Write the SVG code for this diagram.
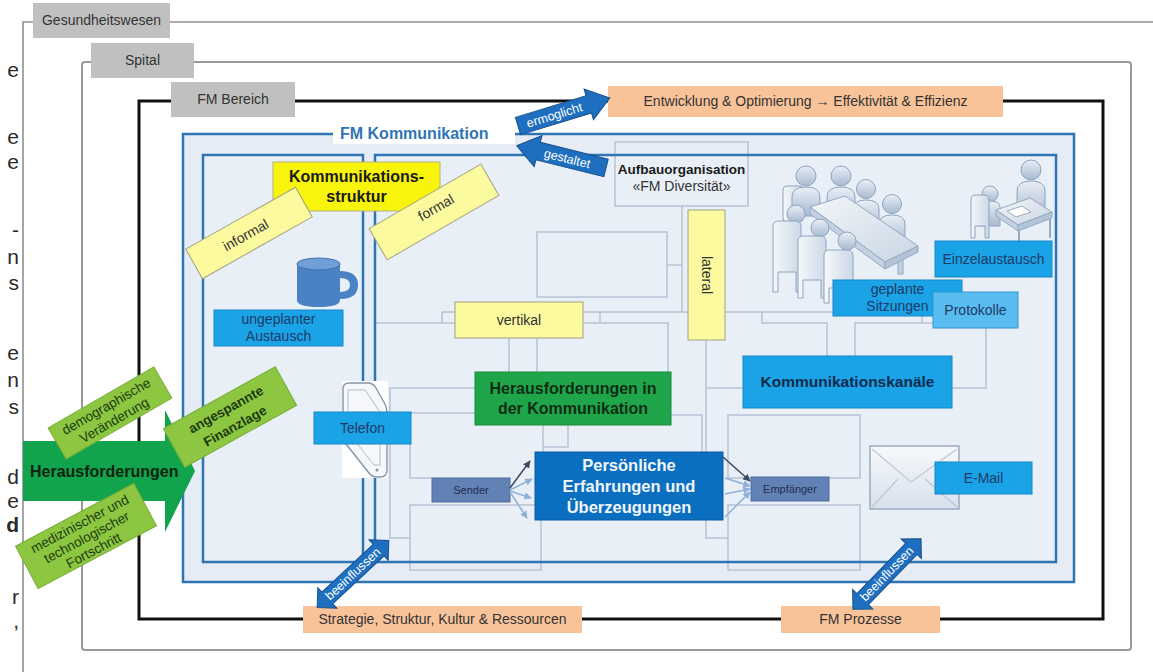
<svg xmlns="http://www.w3.org/2000/svg" width="1153" height="672" viewBox="0 0 1153 672">
<defs>
<style>
text{font-family:"Liberation Sans",Arial,sans-serif;}
.frag{font-size:21px;fill:#2a2a2a;text-anchor:end}
.lbl{font-size:14px;fill:#333;text-anchor:middle}
.grey{fill:#c0c0c0}
.orange{fill:#f9c39a}
.yel{fill:#f8f40c;stroke:#b3b088;stroke-width:1}
.pale{fill:#fbfa9e;stroke:#a3a284;stroke-width:1}
.sky{fill:#1ba3e7;stroke:#1487c6;stroke-width:1}
.skytxt{font-size:14px;fill:#1d3a66;text-anchor:middle}
.bold{font-weight:bold}
.org{fill:none;stroke:#b5c3d6;stroke-width:1.5}
.frame{fill:none;stroke:#2f74b5;stroke-width:2.5}
.barrow{fill:#1f6fc0;stroke:#174f8c;stroke-width:1}
.barrowtxt{font-size:12.5px;fill:#fff;text-anchor:middle}
.lime{fill:#8dc641;stroke:#78ad37;stroke-width:1}
.limetxt{font-size:13.5px;fill:#1b3a10;text-anchor:middle}
.person{fill:url(#gPerson);stroke:#8ea4bf;stroke-width:1}
.chair{fill:url(#gChair);stroke:#8ea4bf;stroke-width:1}
.table{fill:url(#gTable);stroke:#94a9c2;stroke-width:1}
.steel{fill:#6282b5;stroke:#4f6d9d;stroke-width:1}
.steeltxt{font-size:11px;fill:#1f2f4f;text-anchor:middle}
.dark{fill:none;stroke:#3b4a63;stroke-width:1.5}
.light{fill:none;stroke:#8fb1d9;stroke-width:1.5}
</style>
<linearGradient id="gPerson" x1="0" y1="0" x2="0" y2="1">
<stop offset="0" stop-color="#e9eff6"/><stop offset="1" stop-color="#a6bad1"/>
</linearGradient>
<linearGradient id="gChair" x1="0" y1="0" x2="1" y2="0">
<stop offset="0" stop-color="#f5f8fb"/><stop offset="1" stop-color="#cbd8e6"/>
</linearGradient>
<linearGradient id="gTable" x1="0" y1="0" x2="1" y2="1">
<stop offset="0" stop-color="#f3f6fa"/><stop offset="1" stop-color="#c9d6e4"/>
</linearGradient>
<linearGradient id="gEnv" x1="0" y1="0" x2="0" y2="1">
<stop offset="0" stop-color="#f7f9fc"/><stop offset="1" stop-color="#d6e0eb"/>
</linearGradient>
<marker id="mDark" viewBox="0 0 10 10" refX="9" refY="5" markerWidth="5" markerHeight="5" orient="auto">
<path d="M0,0 L10,5 L0,10 Z" fill="#3b4a63"/>
</marker>
<marker id="mLight" viewBox="0 0 10 10" refX="9" refY="5" markerWidth="5" markerHeight="5" orient="auto">
<path d="M0,0 L10,5 L0,10 Z" fill="#8fb1d9"/>
</marker>
</defs>

<rect width="1153" height="672" fill="#fff"/>

<!-- clipped line ends of the neighbouring body text -->
<g id="margin-text">
<text class="frag" x="19" y="77">e</text>
<text class="frag" x="19" y="144">e</text>
<text class="frag" x="19" y="169">e</text>
<text class="frag" x="19" y="237">-</text>
<text class="frag" x="19" y="264">n</text>
<text class="frag" x="19" y="290">s</text>
<text class="frag" x="19" y="360">e</text>
<text class="frag" x="19" y="387">n</text>
<text class="frag" x="19" y="414">s</text>
<text class="frag" x="19" y="484">d</text>
<text class="frag" x="19" y="508">e</text>
<text class="frag bold" x="19" y="532">d</text>
<text class="frag" x="19" y="604">r</text>
<text class="frag" x="19" y="628">,</text>
</g>

<!-- nested context frames -->
<g id="frames">
<path d="M23,672 V22 H1153" fill="none" stroke="#8f8f8f" stroke-width="1.6"/>
<rect x="82" y="62" width="1049" height="588" rx="3" fill="none" stroke="#999" stroke-width="2"/>
<rect x="139" y="101" width="964" height="518" fill="none" stroke="#111" stroke-width="3"/>
</g>

<!-- FM Kommunikation panel -->
<g id="fm-kommunikation">
<rect x="183" y="134" width="891" height="448" fill="#e5ecf5"/>
<rect x="203" y="155" width="160" height="407" fill="#e9eff7"/>
<rect x="375" y="155" width="681" height="407" fill="#e9eff7"/>
</g>

<!-- background organisation chart -->
<g id="orgchart">
<rect class="org" x="615" y="142" width="133" height="64"/>
<rect class="org" x="537" y="232" width="130" height="65"/>
<path class="org" d="M682,206 V312 M667,265 H682 M442,312 H922 M442,312 V323 H375 M442,323 H455
M600,312 V323 M537,372 V323 H668 V372 M509,338 V372
M762,312 V323 H827 V356 M922,312 V323
M855,323 H986 V388 H855 Z
M390,388 H475 M390,388 V538 H410
M411,413 H475 M410,444 V478 H432
M410,505 H541 V570 H410 Z
M543,425 V452 M568,425 V447 H543
M706,340 V388 H743 M706,388 V538 H728
M671,415 H702 V452
M728,415 H860 V478 H728 Z
M728,505 H860 V570 H728 Z"/>
</g>

<g id="fm-kommunikation-frame">
<rect class="frame" x="183" y="134" width="891" height="448"/>
<rect class="frame" x="203" y="155" width="160" height="407"/>
<rect class="frame" x="375" y="155" width="681" height="407"/>
<rect x="333" y="122" width="182" height="22" fill="#fff"/>
<text x="340" y="139" font-size="16" font-weight="bold" fill="#2f74b5">FM Kommunikation</text>
</g>

<!-- context labels -->
<g id="gesundheitswesen">
<rect class="grey" x="33" y="3" width="137" height="35"/>
<text class="lbl" x="101.5" y="25">Gesundheitswesen</text>
</g>
<g id="spital">
<rect class="grey" x="91" y="43" width="103" height="35"/>
<text class="lbl" x="142.5" y="65">Spital</text>
</g>
<g id="fm-bereich">
<rect class="grey" x="171" y="82" width="124" height="35"/>
<text class="lbl" x="233" y="104">FM Bereich</text>
</g>

<g id="entwicklung">
<rect class="orange" x="608" y="86" width="395" height="31"/>
<text class="lbl" x="805.5" y="106">Entwicklung &amp; Optimierung → Effektivität &amp; Effizienz</text>
</g>
<g id="strategie">
<rect class="orange" x="303" y="606" width="279" height="27"/>
<text class="lbl" x="442.5" y="624">Strategie, Struktur, Kultur &amp; Ressourcen</text>
</g>
<g id="fm-prozesse">
<rect class="orange" x="781" y="606" width="159" height="27"/>
<text class="lbl" x="860.5" y="624">FM Prozesse</text>
</g>

<!-- Aufbauorganisation -->
<g id="aufbauorganisation">
<text x="681.5" y="174" font-size="13.5" font-weight="bold" fill="#1a1a1a" text-anchor="middle">Aufbauorganisation</text>
<text class="lbl" x="681.5" y="191">«FM Diversität»</text>
</g>

<!-- meeting scene -->
<g id="sitzung-bild">
<rect class="chair" x="783" y="186" width="20" height="36" rx="4"/>
<circle class="person" cx="806" cy="176" r="10"/>
<path class="person" d="M792,216 V197 Q792,187 806,187 Q820,187 820,197 V216 Z"/>
<circle class="person" cx="841" cy="176" r="10"/>
<path class="person" d="M827,216 V197 Q827,187 841,187 Q855,187 855,197 V216 Z"/>
<circle class="person" cx="866" cy="189" r="9.5"/>
<path class="person" d="M853,229 V209 Q853,200 866,200 Q879,200 879,209 V229 Z"/>
<circle class="person" cx="892" cy="204" r="9.5"/>
<path class="person" d="M879,244 V224 Q879,215 892,215 Q905,215 905,224 V244 Z"/>
<rect x="898" y="258" width="5" height="16" fill="#c2d0e0" stroke="#94a9c2"/>
<polygon class="table" points="810,207 845,196 918,246 885,262"/>
<polygon points="810,207 885,262 885,269 810,214" fill="#c3d1e1" stroke="#94a9c2"/>
<polygon points="885,262 918,246 918,252 885,269" fill="#b3c4d8" stroke="#94a9c2"/>
<circle class="person" cx="796" cy="214" r="9"/>
<circle class="person" cx="820" cy="228" r="9"/>
<circle class="person" cx="847" cy="241" r="9"/>
<path class="chair" d="M773,226 Q773,221 779,221 H795 Q801,221 801,226 V292 H796 V272 H778 V292 H773 Z"/>
<path class="chair" d="M798,241 Q798,236 804,236 H820 Q826,236 826,241 V298 H821 V280 H803 V298 H798 Z"/>
<path class="chair" d="M824,255 Q824,250 830,250 H847 Q853,250 853,255 V303 H848 V288 H829 V303 H824 Z"/>
</g>

<g id="einzel-bild">
<circle class="person" cx="990" cy="194" r="8"/>
<path class="person" d="M980,226 V207 Q980,201 990,201 Q1000,201 1000,207 V226 Z"/>
<path class="chair" d="M971,200 Q971,195 976,195 H984 Q989,195 989,200 V238 H985 V226 H975 V238 H971 Z"/>
<circle class="person" cx="1031" cy="170" r="10"/>
<path class="person" d="M1017,216 V191 Q1017,181 1031,181 Q1045,181 1045,191 V216 Z"/>
<line x1="1019" y1="229" x2="1019" y2="243" stroke="#94a9c2" stroke-width="2"/>
<line x1="1050" y1="214" x2="1050" y2="238" stroke="#94a9c2" stroke-width="2"/>
<polygon class="table" points="996,210 1030,198 1052,212 1018,225"/>
<polygon points="996,210 1018,225 1018,231 996,216" fill="#c3d1e1" stroke="#94a9c2"/>
<polygon points="1018,225 1052,212 1052,218 1018,231" fill="#b3c4d8" stroke="#94a9c2"/>
<polygon points="1007,211 1022,206 1031,212 1016,217" fill="#fff" stroke="#9aabc0"/>
</g>

<!-- mug -->
<g id="tasse">
<path d="M340,271 Q358,271 358,285 Q358,299 340,299 V292 Q350,292 350,285 Q350,278 340,278 Z" fill="#4a82c3"/>
<path d="M297,264 V300 Q297,307 318.5,307 Q340,307 340,300 V264 Z" fill="#4a82c3"/>
<ellipse cx="318.5" cy="264" rx="21.5" ry="6" fill="#6f9fd6" stroke="#3d6fa8" stroke-width="1"/>
</g>

<!-- phone -->
<g id="telefon-bild">
<rect x="342" y="381" width="46" height="97" fill="#fff"/>
<path d="M349,383 L368,383 Q373,383 376,388 L385,404 Q387,408 387,413 L387,470 Q387,477 380,477 L377,477 Q372,477 369,473 L346,444 Q343,440 343,434 L343,389 Q343,383 349,383 Z" fill="#f5f7fa" stroke="#8595ab" stroke-width="1.4"/>
<path d="M348,390 L365,390 L380,412 L380,465 L374,465 L348,432 Z" fill="none" stroke="#b0bccb" stroke-width="1"/>
<circle cx="377" cy="470" r="1.5" fill="#8595ab"/>
</g>

<!-- envelope -->
<g id="email-bild">
<rect x="870" y="446" width="89" height="63" fill="url(#gEnv)" stroke="#9aabc0" stroke-width="1.5"/>
<path d="M872,449 L911,482 L957,449 M872,507 L898,479 M957,507 L925,479" fill="none" stroke="#bcc8d7" stroke-width="1.2"/>
</g>

<!-- Kommunikationsstruktur -->
<g id="kommunikationsstruktur">
<rect class="yel" x="273" y="162" width="167" height="49"/>
<text x="356.5" y="182" font-size="16" font-weight="bold" fill="#1a1a1a" text-anchor="middle">Kommunikations-</text>
<text x="356.5" y="202" font-size="16" font-weight="bold" fill="#1a1a1a" text-anchor="middle">struktur</text>
</g>
<g id="informal" transform="translate(249,233) rotate(-29.4)">
<rect class="pale" x="-63" y="-17" width="126" height="34"/>
<text class="lbl" x="-4" y="5">informal</text>
</g>
<g id="formal" transform="translate(434,212) rotate(-30)">
<rect class="pale" x="-64.5" y="-18" width="129" height="36"/>
<text class="lbl" x="4" y="2">formal</text>
</g>
<g id="vertikal">
<rect class="pale" x="455" y="302" width="128" height="36"/>
<text class="lbl" x="519" y="325">vertikal</text>
</g>
<g id="lateral">
<rect class="pale" x="688" y="210" width="37" height="130"/>
<text class="lbl" transform="translate(702,275) rotate(90)">lateral</text>
</g>

<!-- channels -->
<g id="ungeplanter-austausch">
<rect class="sky" x="214" y="310" width="129" height="36"/>
<text class="skytxt" x="278.5" y="324">ungeplanter</text>
<text class="skytxt" x="278.5" y="341">Austausch</text>
</g>
<g id="telefon">
<rect class="sky" x="314" y="412" width="97" height="32"/>
<text class="skytxt" x="362.5" y="433">Telefon</text>
</g>
<g id="einzelaustausch">
<rect class="sky" x="935" y="241" width="117" height="36"/>
<text class="skytxt" x="993.5" y="264">Einzelaustausch</text>
</g>
<g id="geplante-sitzungen">
<rect class="sky" x="833" y="280" width="129" height="36"/>
<text class="skytxt" x="897.5" y="294">geplante</text>
<text class="skytxt" x="897.5" y="311">Sitzungen</text>
</g>
<g id="protokolle">
<rect x="933" y="292" width="85" height="36" fill="#58bcf0" stroke="#2f96d0" stroke-width="1"/>
<text class="skytxt" x="975.5" y="315">Protokolle</text>
</g>
<g id="kommunikationskanaele">
<rect class="sky" x="743" y="356" width="209" height="52"/>
<text x="847.5" y="387" font-size="15.5" font-weight="bold" fill="#0f2b4d" text-anchor="middle">Kommunikationskanäle</text>
</g>
<g id="email">
<rect class="sky" x="935" y="462" width="97" height="32"/>
<text class="skytxt" x="983.5" y="483">E-Mail</text>
</g>

<g id="herausforderungen-kommunikation">
<rect x="475" y="372" width="196" height="53" fill="#1fa64b" stroke="#178a3c" stroke-width="1"/>
<text x="573" y="394" font-size="16" font-weight="bold" fill="#0f2d14" text-anchor="middle">Herausforderungen in</text>
<text x="573" y="414" font-size="16" font-weight="bold" fill="#0f2d14" text-anchor="middle">der Kommunikation</text>
</g>
<g id="persoenliche-erfahrungen">
<rect x="535" y="452" width="188" height="68" fill="#0b6fc1" stroke="#0a5a9f" stroke-width="1"/>
<text x="629" y="471" font-size="16.5" font-weight="bold" fill="#f2f6fb" text-anchor="middle">Persönliche</text>
<text x="629" y="492" font-size="16.5" font-weight="bold" fill="#f2f6fb" text-anchor="middle">Erfahrungen und</text>
<text x="629" y="513" font-size="16.5" font-weight="bold" fill="#f2f6fb" text-anchor="middle">Überzeugungen</text>
</g>
<g id="sender">
<rect class="steel" x="432" y="478" width="78" height="24"/>
<text class="steeltxt" x="471" y="494">Sender</text>
</g>
<g id="empfaenger">
<rect class="steel" x="751" y="477" width="78" height="24"/>
<text class="steeltxt" x="790" y="493">Empfänger</text>
</g>

<!-- external pressures -->
<g id="herausforderungen">
<path d="M23,441 H165 V410 L195,471 L165,532 V501 H23 Z" fill="#12a44c"/>
<text x="30" y="477" font-size="16" font-weight="bold" fill="#0d2410">Herausforderungen</text>
</g>
<g id="demographische-veraenderung" transform="translate(110,413) rotate(-30)">
<rect class="lime" x="-61" y="-18" width="122" height="36"/>
<text class="limetxt" x="0" y="-3">demographische</text>
<text class="limetxt" x="0" y="13">Veränderung</text>
</g>
<g id="angespannte-finanzlage" transform="translate(230,417) rotate(-29)">
<rect class="lime" x="-64" y="-22" width="128" height="44"/>
<text class="limetxt bold" x="0" y="-4" font-size="16.5">angespannte</text>
<text class="limetxt bold" x="0" y="15" font-size="16.5">Finanzlage</text>
</g>
<g id="fortschritt" transform="translate(86,536) rotate(-28)">
<rect class="lime" x="-67" y="-24" width="134" height="48"/>
<text class="limetxt" x="0" y="-9">medizinischer und</text>
<text class="limetxt" x="0" y="6">technologischer</text>
<text class="limetxt" x="0" y="21">Fortschritt</text>
</g>

<!-- relations -->
<g id="connectors">
<path class="dark" d="M510,488 L530,461" marker-end="url(#mDark)"/>
<path class="light" d="M510,490 L532,479" marker-end="url(#mLight)"/>
<path class="light" d="M510,491 L531,498" marker-end="url(#mLight)"/>
<path class="light" d="M510,492 L527,518" marker-end="url(#mLight)"/>
<path class="dark" d="M723,457 L750,481" marker-end="url(#mDark)"/>
<path class="light" d="M725,478 L750,486" marker-end="url(#mLight)"/>
<path class="light" d="M725,494 L750,489" marker-end="url(#mLight)"/>
<path class="light" d="M725,517 L750,492" marker-end="url(#mLight)"/>

<g id="ermoeglicht" transform="translate(518,126) rotate(-17)">
<path class="barrow" d="M0,-9 H74 V-16 L96,0 L74,16 V9 H0 Z"/>
<text class="barrowtxt" x="38" y="4.5">ermoglicht</text>
</g>
<g id="gestaltet" transform="translate(606,168) rotate(14)">
<path class="barrow" d="M0,-9 H-70 V-16 L-92,0 L-70,16 V9 H0 Z"/>
<text class="barrowtxt" x="-40" y="4.5">gestaltet</text>
</g>
<g id="beeinflussen-links" transform="translate(353,574) rotate(-43)">
<path class="barrow" d="M-49,0 L-35,-14 V-8 H35 V-14 L49,0 L35,14 V8 H-35 V14 Z"/>
<text class="barrowtxt" x="0" y="4" font-size="12">beeinflussen</text>
</g>
<g id="beeinflussen-rechts" transform="translate(887,574) rotate(-46)">
<path class="barrow" d="M-49,0 L-35,-14 V-8 H35 V-14 L49,0 L35,14 V8 H-35 V14 Z"/>
<text class="barrowtxt" x="0" y="4" font-size="12">beeinflussen</text>
</g>
</g>
</svg>
